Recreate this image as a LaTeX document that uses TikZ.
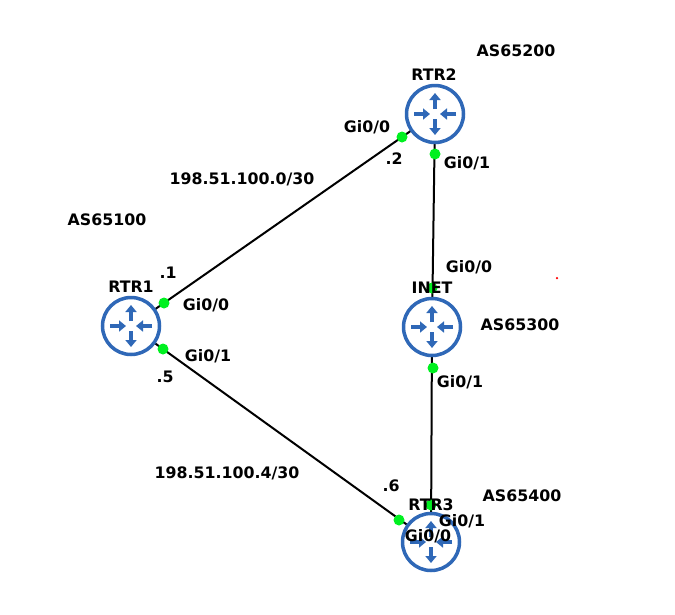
\documentclass[tikz,border=0pt]{standalone}
\usepackage{fontspec}
\setmainfont{DejaVu Sans}
\usetikzlibrary{arrows.meta}
\definecolor{routerblue}{HTML}{2F68B7}
\definecolor{portgreen}{HTML}{00F020}
\tikzset{
  router/.style={circle,draw=routerblue,fill=white,line width=3.5pt,minimum size=57pt,inner sep=0pt},
  glyph/.style={draw=routerblue,line width=3.2pt,-{Triangle[length=7pt,width=11pt,fill=routerblue]}},
  link/.style={draw=black,line width=2pt},
  port/.style={circle,fill=portgreen,minimum size=11pt,inner sep=0pt},
  lbl/.style={inner sep=0pt,font=\fontsize{15.8}{16}\selectfont\bfseries,text height=11pt,text depth=0pt},
}
\begin{document}
\begin{tikzpicture}[x=1pt,y=-1pt]
\useasboundingbox (0,0) rectangle (675,614);
\coordinate (c1) at (131,326);
\coordinate (c2) at (435,114);
\coordinate (c3) at (432,327);
\coordinate (c4) at (431,542);
\draw[link] (c1) -- (c2);
\draw[link] (c1) -- (c4);
\draw[link] (c2) -- (c3);
\draw[link] (c3) -- (c4);
\node[router] (r1) at (c1) {};
\node[router] (r2) at (c2) {};
\node[router] (r3) at (c3) {};
\node[router] (r4) at (c4) {};
\foreach \r in {r1,r2,r3,r4}{
  \draw[glyph] ([shift={(0,-5)}]\r.center) -- ([shift={(0,-21)}]\r.center);
  \draw[glyph] ([shift={(0,5)}]\r.center) -- ([shift={(0,21)}]\r.center);
  \draw[glyph] ([shift={(-21,0)}]\r.center) -- ([shift={(-5,0)}]\r.center);
  \draw[glyph] ([shift={(21,0)}]\r.center) -- ([shift={(5,0)}]\r.center);
}
\node[port] (p1) at (164,303) {};
\node[port] (p2) at (163,349) {};
\node[port] (p3) at (402,137) {};
\node[port] (p4) at (435,154) {};
\node[port] (p5) at (432,288) {};
\node[port] (p6) at (433,368) {};
\node[port] (p7) at (399,520) {};
\node[port] (p8) at (431,505) {};
\node[circle,fill=red,minimum size=2.5pt,inner sep=0pt] (speck) at (557,278) {};
\node[lbl] (t1) at (516,51) {AS65200};
\node[lbl] (t2) at (434,75) {RTR2};
\node[lbl] (t3) at (367,127) {Gi0/0};
\node[lbl] (t4) at (394,159) {.2};
\node[lbl] (t5) at (467,163) {Gi0/1};
\node[lbl] (t6) at (242,179) {198.51.100.0/30};
\node[lbl] (t7) at (107,220) {AS65100};
\node[lbl] (t8) at (168,273) {.1};
\node[lbl] (t9) at (131,287) {RTR1};
\node[lbl] (t10) at (206,305) {Gi0/0};
\node[lbl] (t11) at (208,356) {Gi0/1};
\node[lbl] (t12) at (165,377) {.5};
\node[lbl] (t13) at (469,267) {Gi0/0};
\node[lbl] (t14) at (432,288) {INET};
\node[lbl] (t15) at (520,325) {AS65300};
\node[lbl] (t16) at (460,382) {Gi0/1};
\node[lbl] (t17) at (227,473) {198.51.100.4/30};
\node[lbl] (t18) at (391,486) {.6};
\node[lbl] (t19) at (431,505) {RTR3};
\node[lbl] (t20) at (522,496) {AS65400};
\node[lbl] (t21) at (462,521) {Gi0/1};
\node[lbl] (t22) at (428,536) {Gi0/0};
\end{tikzpicture}
\end{document}
